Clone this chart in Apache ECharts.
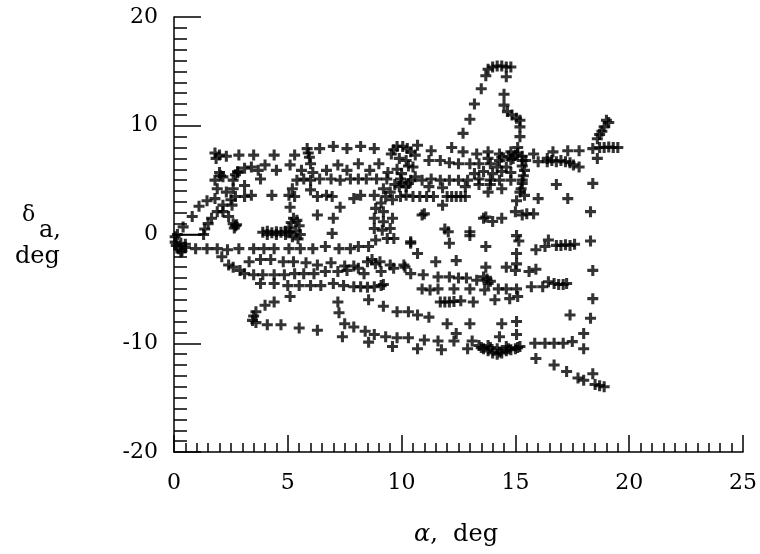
<!DOCTYPE html>
<html>
<head>
<meta charset="utf-8">
<script src="https://cdn.jsdelivr.net/npm/echarts@6/dist/echarts.min.js"></script>
<style>
  html, body { margin: 0; padding: 0; background: #fff; }
  #chart { width: 760px; height: 554px; }
</style>
</head>
<body>
<div id="chart"></div>
<script>
// Aileron deflection (deg) vs angle of attack (deg), flight-test samples.

const xTicks = [0, 5, 10, 15, 20, 25];
const yTicks = [-20, -10, 0, 10, 20];

// samples along the upper band, delta_a about 7 to 8 deg
const topRow = [
  [1.8,7.5],[1.85,7.0],[2.0,7.3],[2.3,7.2],[2.85,7.3],[3.5,7.3],[4.4,7.3],[5.3,7.3],
  [5.85,7.9],[5.9,7.5],[5.95,7.1],[6.4,7.9],[7.0,8.1],[7.6,7.9],[8.2,8.1],[8.8,7.9],
  [9.55,7.4],[9.65,7.8],[9.8,8.1],[10.05,8.1],[10.25,7.9],[10.7,8.2],[11.3,7.7],[12.2,8.0],
  [12.7,7.6],[13.3,7.4],[13.8,7.6],[14.3,7.4],[14.8,7.6],[15.8,7.4],[16.65,7.6],[17.3,7.7],
  [17.8,7.7],[18.4,7.9],[18.7,8.0],[18.9,8.0],[19.1,8.05],[19.3,8.0],[19.5,8.0]
];

// excursion up to 15 deg near alpha = 14
const peakLoop = [
  [12.7,9.3],[13.0,10.6],[13.2,12.0],[13.5,13.4],[13.7,14.6],[13.8,15.2],[14.0,15.4],
  [14.2,15.5],[14.4,15.5],[14.6,15.4],[14.8,15.4],[14.6,14.5],[14.5,12.9],[14.5,11.9],
  [14.65,11.3],[14.85,11.0],[15.05,10.7],[15.2,10.5],[15.2,9.9],[15.2,9.0],[15.1,8.0]
];

// right-hand group above alpha = 16
const rightTop = [
  [19.0,10.5],[19.1,10.3],[18.9,9.9],[18.8,9.5],[18.7,9.2],[18.6,8.8],[18.6,7.0],
  [16.4,6.7],[16.6,6.8],[16.8,6.7],[17.0,6.8],[17.2,6.7],[17.4,6.6],[17.55,6.4],[17.8,6.2],
  [16.0,6.7],[16.4,7.0],[16.8,4.6],[17.3,3.3],[16.0,3.3],[15.05,3.1],[15.2,3.9],[15.4,3.6]
];

// near-vertical sweep at alpha about 18.4
const rightColumn = [
  [18.4,4.7],[18.3,2.1],[18.3,-0.6],[18.4,-3.3],[18.4,-5.9],[18.3,-7.7],[18.0,-9.1],
  [18.0,-10.5],[17.4,-7.4]
];

// low-alpha arcs on the left
const leftArcs = [
  [0.15,0],[0.4,0.7],[0.8,1.65],[1.1,2.6],[1.45,3.1],[1.8,3.3],[1.9,4.2],[1.8,5.0],
  [2.05,5.4],[2.0,5.7],[2.15,5.3],
  [2.6,5.0],[2.7,5.5],[2.8,5.8],[3.1,6.1],[3.4,6.2],[3.7,5.9],[4.0,6.4],[4.5,5.9],
  [5.1,6.4],[5.6,5.9],[6.0,6.5],[6.1,5.7],[6.7,5.9],[7.2,6.4],[7.6,5.9],[8.1,6.5],
  [8.6,5.9],[9.0,6.5],[9.4,5.7],[3.8,5.1],[2.8,5.7],
  [2.3,3.9],[2.6,4.2],[2.5,3.2],[2.55,2.7],[2.7,3.5],[2.15,2.7],[1.9,2.1],[1.65,1.5],
  [1.5,1.0],[1.35,0.5],[1.3,0],[2.15,2.1],[2.4,1.65],[2.7,0.8],[2.6,1.0],[2.65,0.6],
  [2.75,0.9],[3.1,3.5],[3.4,3.6],[4.3,3.6],[3.1,4.5]
];

// dense hold near alpha 4 to 5.5, delta_a about 0
const holdCluster = [
  [3.9,0.2],[4.1,0.3],[4.3,0.15],[4.5,0.25],[4.7,0.2],[4.9,0.3],[4.1,0.0],[4.5,0.0],
  [4.9,0.0],[5.05,0.6],[5.15,1.1],[5.25,1.5],[5.4,1.3],[5.5,0.8],[5.35,0.3],[5.55,0.0],
  [5.2,-0.2],[5.45,-0.4],[5.1,0.2]
];

// middle band, delta_a 0 to 7
const midBand = [
  [5.4,5.0],[5.7,5.1],[6.0,5.0],[6.4,5.1],[6.9,5.1],[7.3,5.0],[7.75,5.1],[8.1,5.1],
  [8.45,5.1],[8.9,5.1],[9.35,5.1],[9.95,5.1],[10.4,5.0],[10.9,5.0],[11.3,5.1],[11.7,5.0],
  [12.1,5.0],[12.5,5.0],[12.9,5.0],[13.4,5.1],[13.9,5.0],[14.3,5.0],[14.8,5.0],[15.3,5.0],
  [9.9,4.4],[10.2,4.4],[11.2,4.4],[11.8,4.3],[12.8,4.4],[13.4,4.6],[13.9,4.6],[14.4,4.2],
  [10.2,6.8],[10.5,6.2],[11.2,6.8],[11.7,6.8],[12.1,6.6],[12.5,6.5],[13.0,6.5],[13.4,6.5],
  [13.9,6.5],[14.3,6.8],[14.8,6.9],[15.3,6.8],
  [15.25,4.2],[15.3,4.7],[15.35,5.4],[15.4,5.9],[15.3,6.3],[15.45,6.8],[15.3,7.2],
  [15.1,7.5],[14.9,7.0],[14.7,7.2],
  [9.7,4.6],[10.0,4.8],[10.3,4.7],[10.6,5.3],[10.0,5.6],[9.8,6.0],[10.3,6.3],[10.6,7.3],
  [9.9,7.0],[10.4,7.6],
  [13.2,5.6],[13.6,5.8],[14.0,5.6],[14.4,5.8],[14.8,5.7],[14.2,6.2],[14.6,6.2],[13.8,7.0],
  [14.4,7.1],[15.0,7.3],
  [9.2,4.2],[9.5,3.9],[9.3,3.5],[9.6,3.2],[9.1,2.9],[8.86,2.4],[9.2,2.1],[8.8,1.5],
  [9.2,1.17],[9.6,1.5],[8.8,0.55],[9.15,0.4],[9.5,0.55],[8.86,-0.5],[9.37,-0.36],
  [9.66,-0.36],[10.4,-0.67],
  [9.95,3.5],[10.2,3.6],[10.5,3.5],[10.8,3.5],[11.1,3.5],[11.4,3.5],[12.0,3.5],[12.2,3.5],
  [12.4,3.5],[12.6,3.5],[12.8,3.5],
  [5.05,3.6],[5.2,4.2],[5.3,3.5],[5.1,2.5],[6.0,4.1],[6.3,3.5],[6.7,3.6],[6.95,3.5],
  [6.3,1.8],[7.0,1.5],[6.95,0.1],[7.3,2.5],[7.9,3.3],[8.2,3.6],[8.8,3.6],[11.8,2.7],
  [10.9,1.8],[11.0,1.9],[11.9,0.5],[12.05,0.25],[13.0,0.25],[13.6,1.5],[14.0,1.2],
  [14.4,1.5],[13.8,3.9],[15.0,2.1],[15.3,1.8],[15.5,1.9],[15.8,1.9],[13.7,1.6]
];

// negative deflections, delta_a -0.5 to -5
const negBand = [
  [0.05,-0.2],[0.05,-0.7],[0.1,-1.0],[0.3,-0.8],[0.5,-0.9],[0.3,-1.6],
  [0.2,-1.3],[0.35,-1.5],[0.5,-1.2],[0.95,-1.3],[1.45,-1.3],[1.9,-1.3],[2.35,-1.4],
  [2.85,-1.3],[3.5,-1.3],[3.95,-1.3],[4.4,-1.3],[5.05,-1.3],[5.55,-1.3],[6.1,-1.3],
  [6.65,-1.1],[7.25,-1.3],[7.75,-1.3],[8.1,-1.1],[8.55,-1.1],
  [2.1,-2.05],[2.4,-2.8],[2.6,-3.0],[2.9,-3.3],[3.3,-2.5],[3.8,-2.3],[4.25,-2.3],
  [4.8,-2.5],[5.25,-2.5],[5.8,-2.6],[6.3,-2.8],[6.9,-2.6],[7.5,-2.9],[7.9,-2.9],
  [8.5,-2.5],[8.7,-2.3],[8.85,-2.7],[9.05,-2.5],[9.5,-2.8],[10.1,-2.8],
  [3.1,-3.6],[3.5,-3.7],[3.9,-3.7],[4.4,-3.7],[4.85,-3.7],[5.3,-3.6],[5.7,-3.6],
  [6.15,-3.6],[6.65,-3.4],[7.2,-3.4],[7.6,-3.3],[8.1,-3.1],[8.35,-3.6],[9.1,-3.4],
  [9.65,-3.1],[10.4,-3.6],[10.95,-3.7],[11.6,-3.9],[12.1,-3.9],[12.5,-4.0],[12.85,-4.0],
  [13.3,-4.2],[13.6,-3.9],[13.75,-4.1],[13.9,-4.3],[13.8,-4.5],
  [3.8,-4.5],[4.4,-4.5],[5.0,-4.7],[5.5,-4.7],[6.0,-4.7],[6.45,-4.7],[7.0,-4.5],
  [7.45,-4.7],[7.9,-4.8],[8.2,-4.8],[8.5,-4.85],[8.8,-4.8],[9.1,-4.7],[9.2,-4.6],
  [10.9,-5.0],[11.25,-5.1],[11.6,-5.0],[12.3,-5.0],[13.0,-5.0],[13.65,-5.1],[14.25,-5.0],
  [14.6,-5.0],[15.05,-5.0],[15.7,-4.8],[16.2,-4.8],[16.45,-4.35],[16.7,-4.5],[16.9,-4.6],
  [17.1,-4.6],[17.25,-4.5],
  [10.4,-0.8],[10.7,-1.75],[11.5,-2.5],[12.1,-0.8],[12.4,-2.4],[13.7,-1.1],[13.7,-3.0],
  [14.6,-3.0],[15.05,-0.1],[15.15,-0.6],[15.05,-1.75],[15.05,-2.7],[15.0,-3.3],[15.6,-3.4],
  [15.9,-3.2],[15.9,-1.4],[16.3,-1.1],[16.45,-0.5],[16.8,-1.0],[17.0,-1.0],[17.2,-0.95],
  [17.4,-1.0],[17.6,-0.9],[10.15,-3.0],[13.0,-0.1]
];

// lower band, delta_a -5.5 to -14
const lowBand = [
  [5.1,-5.7],[4.4,-6.2],[4.0,-6.5],[3.6,-7.1],[3.5,-7.5],[3.45,-7.9],[3.6,-8.1],[4.1,-8.3],
  [4.7,-8.3],[5.5,-8.6],[6.3,-8.8],
  [11.7,-6.2],[11.9,-6.2],[12.1,-6.2],[12.3,-6.15],[12.6,-6.1],[13.15,-6.2],[14.1,-6.0],
  [14.75,-5.9],[15.1,-5.7],
  [8.55,-6.0],[9.2,-6.6],[9.8,-7.1],[10.3,-7.1],[10.7,-7.4],[11.2,-7.6],[12.0,-8.2],
  [13.0,-8.2],[14.4,-8.2],[15.05,-8.0],
  [7.2,-6.2],[7.25,-7.2],[7.5,-8.2],[7.9,-8.5],[8.4,-8.9],[8.8,-9.2],[9.3,-9.4],[9.8,-9.5],
  [10.3,-9.5],[11.0,-9.7],[11.6,-9.8],[12.3,-9.8],[12.4,-9.1],[13.1,-9.8],[14.3,-9.4],
  [15.05,-9.2],[7.4,-9.4],[8.55,-9.9],[9.6,-10.3],[10.7,-10.5],[11.75,-10.6],[12.9,-10.5],
  [13.4,-10.2],[13.6,-10.5],[13.8,-10.7],[14.0,-10.9],[14.2,-11.0],[14.4,-10.9],[14.6,-10.7],
  [14.8,-10.6],[15.0,-10.5],[15.2,-10.3],[13.8,-10.2],[14.2,-10.5],[14.6,-10.3],
  [13.5,-10.4],[13.9,-10.4],[14.3,-10.8],[14.7,-10.5],[15.1,-10.4],
  [15.85,-10.0],[16.3,-10.0],[16.7,-10.0],[17.1,-10.0],[17.5,-9.85],
  [15.9,-11.4],[16.7,-12.0],[17.25,-12.6],[17.75,-13.2],[18.0,-13.4],[18.4,-12.8],
  [18.5,-13.8],[18.7,-13.9],[18.9,-14.0]
];

// steady trace at delta_a = 0 from the start of the record
const startTrace = [[0, 0], [1.35, 0]];

const scatterGroups = [topRow, peakLoop, rightTop, rightColumn, leftArcs, holdCluster, midBand, negBand, lowBand];

const plus = 'path://M3.6,0H6.4V3.6H10V6.4H6.4V10H3.6V6.4H0V3.6H3.6Z';
const serif = '"DejaVu Serif", "Liberation Serif", serif';
const ink = '#000';

const chart = echarts.init(document.getElementById('chart'), null, { renderer: 'canvas' });

const series = scatterGroups.map(g => ({
  type: 'scatter',
  data: g,
  symbol: plus,
  symbolSize: 11,
  itemStyle: { color: '#000' },
  silent: true,
  animation: false
}));
series.push({
  type: 'line',
  data: startTrace,
  symbol: 'none',
  lineStyle: { color: '#000', width: 1.5 },
  silent: true,
  animation: false
});

chart.setOption({
  backgroundColor: '#fff',
  animation: false,
  grid: { left: 174, right: 17, top: 17, bottom: 102, containLabel: false },
  xAxis: {
    type: 'value',
    min: xTicks[0], max: xTicks[xTicks.length - 1], interval: 5,
    axisLine: { show: true, onZero: false, lineStyle: { color: '#000', width: 1.5 } },
    axisTick: { show: true, inside: true, length: 17, lineStyle: { color: '#000', width: 1.5 } },
    minorTick: { show: true, splitNumber: 10, length: 9, lineStyle: { color: '#000', width: 1.5 } },
    splitLine: { show: false },
    axisLabel: { color: ink, fontFamily: serif, fontSize: 22, margin: 20 }
  },
  yAxis: {
    type: 'value',
    min: yTicks[0], max: yTicks[yTicks.length - 1], interval: 10,
    axisLine: { show: true, onZero: false, lineStyle: { color: '#000', width: 1.5 } },
    axisTick: { show: true, inside: true, length: 27, lineStyle: { color: '#000', width: 1.5 } },
    minorTick: { show: true, splitNumber: 10, length: 13, lineStyle: { color: '#000', width: 1.5 } },
    splitLine: { show: false },
    axisLabel: { color: ink, fontFamily: serif, fontSize: 22, margin: 16 }
  },
  graphic: [
    {
      type: 'text', left: 414, top: 523, silent: true,
      style: {
        text: '{i|α},  deg',
        font: '24px ' + serif,
        fill: ink,
        rich: { i: { fontFamily: serif, fontSize: 24, fontStyle: 'italic', fill: ink } }
      }
    },
    {
      type: 'text', left: 22, top: 204, silent: true,
      style: { text: 'δ', font: '22px ' + serif, fill: ink }
    },
    {
      type: 'text', left: 39, top: 219, silent: true,
      style: { text: 'a,', font: '24px ' + serif, fill: ink }
    },
    {
      type: 'text', left: 15, top: 245, silent: true,
      style: { text: 'deg', font: '24px ' + serif, fill: ink }
    }
  ],
  series: series
});
</script>
</body>
</html>
